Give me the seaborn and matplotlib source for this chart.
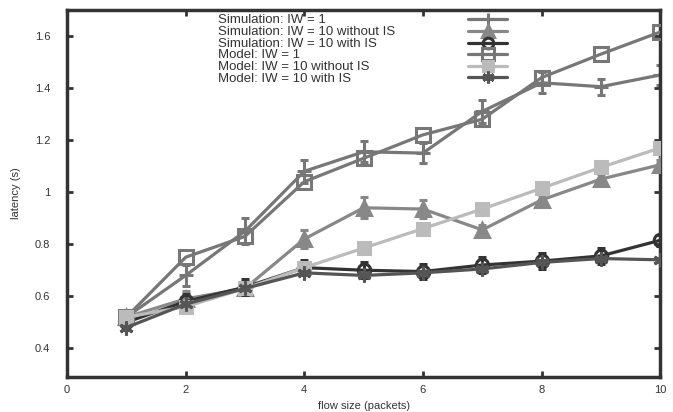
import numpy as np
import pandas as pd
import matplotlib
matplotlib.use('Agg')
import matplotlib.pyplot as plt
from matplotlib.lines import Line2D
from matplotlib.ticker import FormatStrFormatter
import seaborn as sns

# flow sizes
flow = [1, 2, 3, 4, 5, 6, 7, 8, 9, 10]

# simulation results (mean, error)
sim_iw1 = [0.52, 0.68, 0.85, 1.08, 1.155, 1.15, 1.31, 1.42, 1.405, 1.45]
sim_iw1_err = [0.02, 0.04, 0.05, 0.045, 0.04, 0.04, 0.045, 0.04, 0.03, 0.04]
sim_iw10 = [0.52, 0.59, 0.63, 0.82, 0.94, 0.935, 0.855, 0.97, 1.05, 1.105]
sim_iw10_err = [0.02, 0.03, 0.02, 0.035, 0.04, 0.035, 0.02, 0.02, 0.02, 0.02]
sim_iw10_is = [0.50, 0.58, 0.635, 0.71, 0.70, 0.695, 0.72, 0.735, 0.755, 0.815]
sim_iw10_is_err = [0.03, 0.03, 0.03, 0.03, 0.03, 0.03, 0.03, 0.03, 0.03, 0.02]

# model results
mod_iw1 = [0.52, 0.75, 0.83, 1.04, 1.13, 1.22, 1.28, 1.44, 1.53, 1.615]
mod_iw10 = [0.52, 0.56, 0.63, 0.71, 0.785, 0.86, 0.935, 1.015, 1.095, 1.17]
mod_iw10_is = [0.48, 0.57, 0.63, 0.69, 0.68, 0.69, 0.705, 0.73, 0.745, 0.74]

labels = ['Simulation: IW = 1', 'Simulation: IW = 10 without IS',
          'Simulation: IW = 10 with IS', 'Model: IW = 1',
          'Model: IW = 10 without IS', 'Model: IW = 10 with IS']

sns.set_style('ticks')
plt.rcParams['font.family'] = ['Liberation Sans', 'DejaVu Sans']

fig = plt.figure(figsize=(6.73, 4.12), dpi=100)
ax = fig.add_axes([0.0996, 0.085, 0.8814, 0.891])

lw = 2.3
series = [
    # values, errors, color, marker, filled, size
    (sim_iw1, sim_iw1_err, '#777777', '+', True, 10),
    (sim_iw10, sim_iw10_err, '#888888', '^', True, 10),
    (sim_iw10_is, sim_iw10_is_err, '#333333', 'o', False, 9),
    (mod_iw1, None, '#777777', 's', False, 10),
    (mod_iw10, None, '#bbbbbb', 's', True, 9),
    (mod_iw10_is, None, '#555555', (6, 2, 0), True, 10),
]

handles = []
for i, (vals, errs, color, marker, filled, ms) in enumerate(series):
    df = pd.DataFrame({'flow': flow, 'latency': vals})
    mfc = color if filled else 'none'
    sns.lineplot(data=df, x='flow', y='latency', ax=ax, color=color, lw=lw,
                 marker=marker, markersize=ms, markerfacecolor=mfc,
                 markeredgecolor=color, markeredgewidth=2.2, zorder=2 + i)
    if errs is not None:
        ax.errorbar(flow, vals, yerr=errs, fmt='none', ecolor=color,
                    elinewidth=2.2, capsize=3, capthick=2.2, zorder=2 + i)
    handles.append(Line2D([], [], color=color, lw=lw, marker=marker,
                          markersize=ms * 0.85, markerfacecolor=mfc,
                          markeredgecolor=color, markeredgewidth=2.2))

ax.set_xlim(0, 10)
ax.set_ylim(0.29, 1.7)
ax.set_xticks([0, 2, 4, 6, 8, 10])
ax.set_yticks([0.4, 0.6, 0.8, 1.0, 1.2, 1.4, 1.6])
ax.yaxis.set_major_formatter(FormatStrFormatter('%g'))
ax.tick_params(direction='in', length=4, width=2, color='#333333',
               labelsize=8, labelcolor='#333333', top=True, right=True)
ax.tick_params(axis='y', pad=12)
ax.tick_params(axis='x', pad=6)
for s in ax.spines.values():
    s.set_linewidth(2.5)
    s.set_color('#333333')

ax.set_xlabel('flow size (packets)', fontsize=8, color='#333333', labelpad=4)
ax.set_ylabel('latency (s)', fontsize=8, color='#333333', labelpad=10)

# gnuplot style key: text column on the left, samples in a column to the right
for i, lab in enumerate(labels):
    fig.text(218 / 673, 1 - (20 + 11.8 * i) / 412, lab, fontsize=9.5,
             color='#333333', ha='left', va='center')
ax.legend(handles=handles, labels=[' '] * 6, loc='upper left',
          bbox_to_anchor=(0.665, 1.0), frameon=False, fontsize=6,
          handlelength=4.7, handletextpad=0, labelspacing=0.45,
          borderpad=0.3)

fig.savefig('out.png', dpi=100)
